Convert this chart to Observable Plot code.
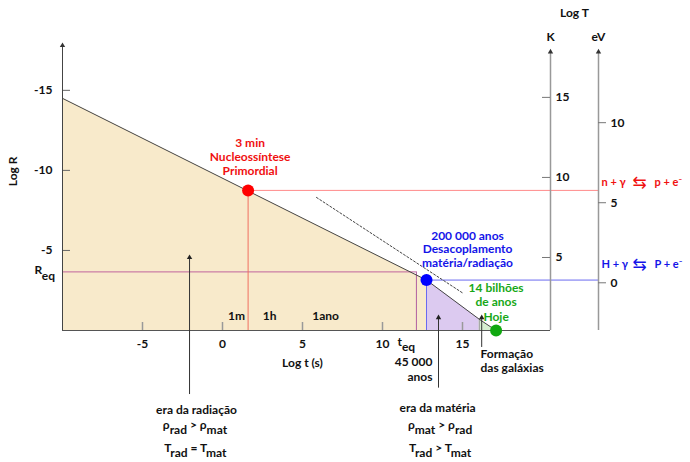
<!DOCTYPE html>
<html><head><meta charset="utf-8">
<script src="https://cdn.jsdelivr.net/npm/d3@7"></script>
<script src="https://cdn.jsdelivr.net/npm/@observablehq/plot@0.6"></script>
<style>body{margin:0;background:#fff}</style>
</head><body><div id="chart"></div>
<script>
// ---- data (log t in seconds, log R) ----
const curveLogT = [-10, 12.75, 16.05, 17.1];
const curveLogR = [-14.5, -3.15, -0.7, 0];
const eventNames = ["nucleossintese", "desacoplamento", "hoje"];
const eventLogT = [1.6, 12.75, 17.1];
const eventLogR = [-8.75, -3.15, 0];
const eventLabels = ["3 min\nNucleossíntese\nPrimordial", "200 000 anos\nDesacoplamento\nmatéria/radiação", "14 bilhões\nde anos\nHoje"];
const eqLogT = 12.12;   // t_eq
const eqLogR = -3.66;   // R_eq
const galaxyLogT = 16.05;
const galaxyLogR = -0.7;
const dottedLogT = [5.875, 15.06];
const dottedLogR = [-8.31, -2.31];
const eraNames = ["radiação", "matéria", "galáxias"];
const eraStart = [-10, 12.75, 16.05];
const eraEnd = [12.75, 16.05, 17.1];
const xTickValues = [-5, 0, 5, 10, 15];
const yTickValues = [-15, -10, -5];
const timeMarkLabels = ["1m", "1h", "1ano"];
const timeMarkLogT = [0.875, 2.94, 6.44];
const kelvinTicks = [5, 10, 15];
const eVTicks = [0, 5, 10];
const kelvinOffset = 0.44;   // log R = kelvinOffset - log T(K)
const eVOffset = -2.98;      // log R = eVOffset - log T(eV)
const reactionLeft = ["n + γ", "H + γ"];
const reactionRight = ["p + e⁻", "P + e⁻"];

// ---- derived tables ----
const curve = curveLogT.map((t, i) => ({logt: t, logR: curveLogR[i]}));
const events = eventNames.map((n, i) => ({name: n, logt: eventLogT[i], logR: eventLogR[i], label: eventLabels[i]}));
const dotted = dottedLogT.map((t, i) => ({logt: t, logR: dottedLogR[i]}));
const eraFills = ["#F8EACB", "#DCCAF0", "#D6EFD0"];
const eraAreas = eraNames.map((n, i) => curve.filter(p => p.logt >= eraStart[i] && p.logt <= eraEnd[i]));
const evColors = ["#FF0000", "#0000FF", "#10A810"];
const txtColors = ["#F01010", "#1414E8", "#18A818"];

const xMin = -10, xMax = 20.5, eVx = 23.5, yTop = -17.8, rTop = -17.4;
const zero = () => 0;
const font = "Lato, 'DejaVu Sans', sans-serif";

const marks = [];
eraAreas.forEach((pts, i) => marks.push(Plot.areaY(pts, {x: "logt", y1: zero, y2: "logR", fill: eraFills[i], curve: "linear"})));
// internal lines
marks.push(Plot.ruleY([eqLogR], {y: d => d, x1: () => xMin, x2: () => eqLogT, stroke: "#C0649C", strokeWidth: 1}));
marks.push(Plot.ruleX([eqLogT], {x: d => d, y1: zero, y2: () => eqLogR, stroke: "#B060A0", strokeWidth: 1}));
marks.push(Plot.ruleX([events[0]], {x: "logt", y1: zero, y2: "logR", stroke: "#F07060", strokeWidth: 1}));
marks.push(Plot.ruleY([events[0]], {y: "logR", x1: "logt", x2: () => eVx, stroke: "#FF8A8A", strokeWidth: 1}));
marks.push(Plot.ruleX([events[1]], {x: "logt", y1: zero, y2: "logR", stroke: "#6A6AF0", strokeWidth: 1}));
marks.push(Plot.ruleY([events[1]], {y: "logR", x1: "logt", x2: () => eVx, stroke: "#6A6AF0", strokeWidth: 1}));
marks.push(Plot.ruleX([galaxyLogT], {x: d => d, y1: zero, y2: () => galaxyLogR, stroke: "#999", strokeWidth: 1}));
// x ticks (inward)
marks.push(Plot.ruleX(xTickValues, {x: d => d, y1: zero, y2: () => -0.5, stroke: "#999", strokeWidth: 1.5}));
marks.push(Plot.ruleY(yTickValues, {y: d => d, x1: () => xMin, x2: () => xMin + 0.5, stroke: "#666", strokeWidth: 1}));
// curve and dotted
marks.push(Plot.line(curve, {x: "logt", y: "logR", stroke: "#444", strokeWidth: 1}));
marks.push(Plot.line(dotted, {x: "logt", y: "logR", stroke: "#444", strokeWidth: 1, strokeDasharray: "2,2"}));
// frame axes
marks.push(Plot.ruleX([xMin], {x: d => d, y1: zero, y2: () => yTop, stroke: "#444"}));
marks.push(Plot.ruleY([0], {y: d => d, x1: () => xMin, x2: () => xMax, stroke: "#555"}));
marks.push(Plot.ruleX([xMax, eVx], {x: d => d, y1: zero, y2: () => rTop, stroke: "#999", strokeWidth: 1.5}));
marks.push(Plot.dot([{x: xMin, y: yTop}, {x: xMax, y: rTop}, {x: eVx, y: rTop}], {x: "x", y: "y", symbol: "triangle", r: 2, fill: "#333", stroke: null}));
// right axes ticks
marks.push(Plot.ruleY(kelvinTicks, {y: d => kelvinOffset - d, x1: () => xMax - 0.5, x2: () => xMax, stroke: "#777"}));
marks.push(Plot.text(kelvinTicks, {x: () => xMax, y: d => kelvinOffset - d, text: d => String(d), dx: 5, textAnchor: "start", fill: "#111"}));
marks.push(Plot.ruleY(eVTicks, {y: d => eVOffset - d, x1: () => eVx, x2: () => eVx + 0.5, stroke: "#777"}));
marks.push(Plot.text(eVTicks, {x: () => eVx, y: d => eVOffset - d, text: d => String(d), dx: 12, textAnchor: "start", fill: "#111"}));
// arrows
const arrows = [
  {x: -2.06, y1: 4.0, y2: -4.56},
  {x: 13.5, y1: 3.6, y2: -0.8},
  {x: 16.2, y1: 1.06, y2: -0.8}
];
marks.push(Plot.ruleX(arrows, {x: "x", y1: "y1", y2: "y2", stroke: "#333", strokeWidth: 1}));
marks.push(Plot.dot(arrows, {x: "x", y: "y2", symbol: "triangle", r: 2, fill: "#222", stroke: null}));
// event points
marks.push(Plot.dot(events, {x: "logt", y: "logR", r: 6, fill: (d, i) => evColors[i], stroke: null}));
// axes labels
marks.push(Plot.axisX({ticks: xTickValues, tickSize: 0, tickPadding: 9, tickFormat: d => String(d), label: null, fill: "#111"}));
marks.push(Plot.axisY({ticks: yTickValues, tickSize: 0, tickPadding: 10, tickFormat: d => String(d), label: null, fill: "#111", anchor: "left"}));
marks.push(Plot.text(timeMarkLabels, {x: (d, i) => timeMarkLogT[i], y: () => -0.875, text: d => d, fill: "#111"}));
// event labels
const evOffsets = [[2, -34, 1.2], [41, -31, 1.15], [0, -29, 1.2]];
events.forEach((e, i) => marks.push(Plot.text([e], {x: "logt", y: "logR", text: "label", dx: evOffsets[i][0], dy: evOffsets[i][1], lineHeight: evOffsets[i][2], fill: txtColors[i]})));
// misc annotations
const ann = [
  {t: "Log t (s)", x: 5.0, y: 2.0, a: "middle"},
  {t: "t_{eq}", x: 10.94, y: 0.65, a: "start"},
  {t: "45 000\nanos", x: 13.125, y: 2.4, a: "end"},
  {t: "Formação\ndas galáxias", x: 16.125, y: 1.85, a: "start"},
  {t: "era da radiação", x: -1.625, y: 4.94, a: "middle"},
  {t: "ρ_{rad} > ρ_{mat}", x: -1.72, y: 5.85, a: "middle"},
  {t: "T_{rad} = T_{mat}", x: -1.69, y: 7.3, a: "middle"},
  {t: "era da matéria", x: 13.44, y: 4.81, a: "middle"},
  {t: "ρ_{mat} > ρ_{rad}", x: 13.6, y: 5.85, a: "middle"},
  {t: "T_{rad} > T_{mat}", x: 13.6, y: 7.3, a: "middle"},
  {t: "R_{eq}", x: -11.75, y: -3.8, a: "start"},
  {t: "Log T", x: 22.0, y: -19.875, a: "middle"},
  {t: "K", x: xMax, y: -18.375, a: "middle"},
  {t: "eV", x: eVx, y: -18.375, a: "middle"}
];
for (const a of ann) marks.push(Plot.text([a], {x: "x", y: "y", text: "t", textAnchor: a.a, lineHeight: 1.2, fill: "#111"}));
marks.push(Plot.text(["Log R"], {x: () => -13.06, y: () => -9.94, text: d => d, rotate: -90, fill: "#111"}));
// reactions: left side, double arrow, right side
const reactY = [-9.25, -4.125];
marks.push(Plot.text(reactionLeft, {x: () => 23.69, y: (d, i) => reactY[i], text: d => d, textAnchor: "start", fontSize: 11, fill: (d, i) => txtColors[i]}));
marks.push(Plot.text(reactionLeft, {x: () => 23.69, y: (d, i) => reactY[i], text: () => "⇆", dx: 31, textAnchor: "start", fontSize: 17, fontWeight: "normal", fill: (d, i) => txtColors[i]}));
marks.push(Plot.text(reactionRight, {x: () => 23.69, y: (d, i) => reactY[i], text: d => d, dx: 53, textAnchor: "start", fontSize: 11, fill: (d, i) => txtColors[i]}));

const plot = Plot.plot({
  width: 690, height: 462,
  marginLeft: 62, marginRight: 140, marginTop: 45, marginBottom: 132,
  x: {domain: [xMin, xMax]},
  y: {domain: [0, yTop]},
  style: {fontFamily: font, fontSize: "12px", fontWeight: "bold", background: "#fff", overflow: "visible"},
  marks
});

// subscripts
d3.select(plot).selectAll("text").each(function() {
  if (this.querySelector("tspan")) return;
  const s = this.textContent;
  if (!s.includes("_{")) return;
  this.textContent = "";
  let shifted = false;
  for (const p of s.split(/(_\{[^}]*\})/)) {
    if (!p) continue;
    const ts = document.createElementNS("http://www.w3.org/2000/svg", "tspan");
    if (p.startsWith("_{")) { ts.textContent = p.slice(2, -1); ts.setAttribute("dy", "0.45em"); shifted = true; }
    else { ts.textContent = p; if (shifted) { ts.setAttribute("dy", "-0.45em"); shifted = false; } }
    this.appendChild(ts);
  }
});
document.getElementById("chart").appendChild(plot);
</script>
</body></html>
